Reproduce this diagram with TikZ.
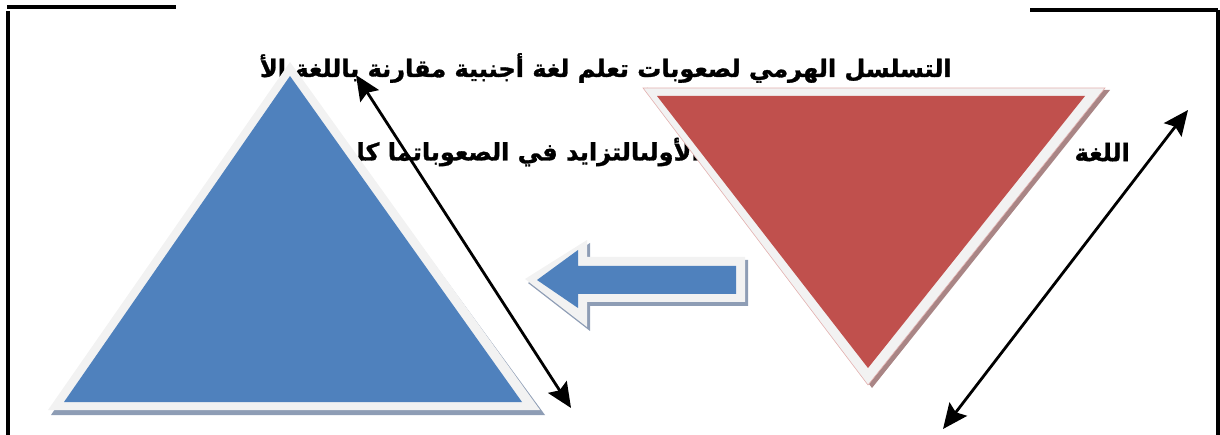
\documentclass[tikz,border=0pt]{standalone}
\usepackage{fontspec}
\newfontfamily\arabicfont[Script=Arabic,BoldFeatures={FakeBold=1.2}]{DejaVu Sans}
\TeXXeTstate=1
\usetikzlibrary{arrows.meta,positioning}
\definecolor{faceblue}{HTML}{4F81BD}
\definecolor{facered}{HTML}{C0504D}
\definecolor{rimgrey}{HTML}{F2F2F2}
\definecolor{shadeblue}{HTML}{8E9DB5}
\definecolor{shadered}{HTML}{A98585}

\begin{document}
\begin{tikzpicture}[x=1pt,y=-1pt]
\tikzset{
  frameline/.style={draw=black,line width=3.4pt},
  titletext/.style={font=\arabicfont\bfseries\fontsize{24}{28}\selectfont,inner sep=0pt},
  rim/.style={fill=rimgrey},
  shadow/.style={fill=#1},
  dblarrow/.style={draw=black,line width=2.8pt,{Stealth[length=25pt,width=22pt,inset=4pt]}-{Stealth[length=25pt,width=22pt,inset=4pt]}}
}
\useasboundingbox (0,0) rectangle (1220,435);
% frame
\draw[frameline] (7,7) -- (176,7);
\draw[frameline] (8,11) -- (8,435);
\draw[frameline] (1030,10) -- (1218,10);
\draw[frameline] (1218,10) -- (1218,435);
% title lines
\node[titletext,anchor=east] (t_one) at (952,68) {\beginR التسلسل الهرمي لصعوبات تعلم لغة أجنبية مقارنة باللغة الأ\endR};
\node[titletext,anchor=east] (t_two) at (1130,152) {\beginR اللغة\endR};
\node[titletext,anchor=east] (t_three) at (700,152) {\beginR الأولىالتزايد في الصعوباتما كل\endR};
% blue triangle
\fill[shadow=shadeblue] (51,415) -- (290,67) -- (545,415) -- cycle;
\fill[rim] (48,410) -- (290,62) -- (540,410) -- cycle;
\fill[faceblue] (64,402) -- (290,76) -- (522,402) -- cycle;
% red triangle
\fill[shadow=shadered] (647,88) -- (1110,90) -- (872,388) -- cycle;
\filldraw[rim,draw=facered!45,line width=0.6pt] (643,88) -- (1105,88) -- (868,385) -- cycle;
\fill[facered] (657,96) -- (1085,96) -- (868,368) -- cycle;
% block arrow
\fill[shadow=shadeblue] (528,283) -- (590,243) -- (590,260) -- (748,260) -- (748,306) -- (590,306) -- (590,331) -- cycle;
\fill[rim] (525,279) -- (587,240) -- (587,257) -- (745,257) -- (745,302) -- (587,302) -- (587,327) -- cycle;
\fill[faceblue] (537,280) -- (578,250) -- (578,266) -- (736,266) -- (736,294) -- (578,294) -- (578,308) -- cycle;
% double arrows
\coordinate (a_top) at (356,75);
\coordinate (a_bot) at (571,408);
\coordinate (b_bot) at (943,429);
\coordinate (b_top) at (1188,110);
\draw[dblarrow] (a_top) -- (a_bot);
\draw[dblarrow] (b_bot) -- (b_top);
\end{tikzpicture}
\end{document}
